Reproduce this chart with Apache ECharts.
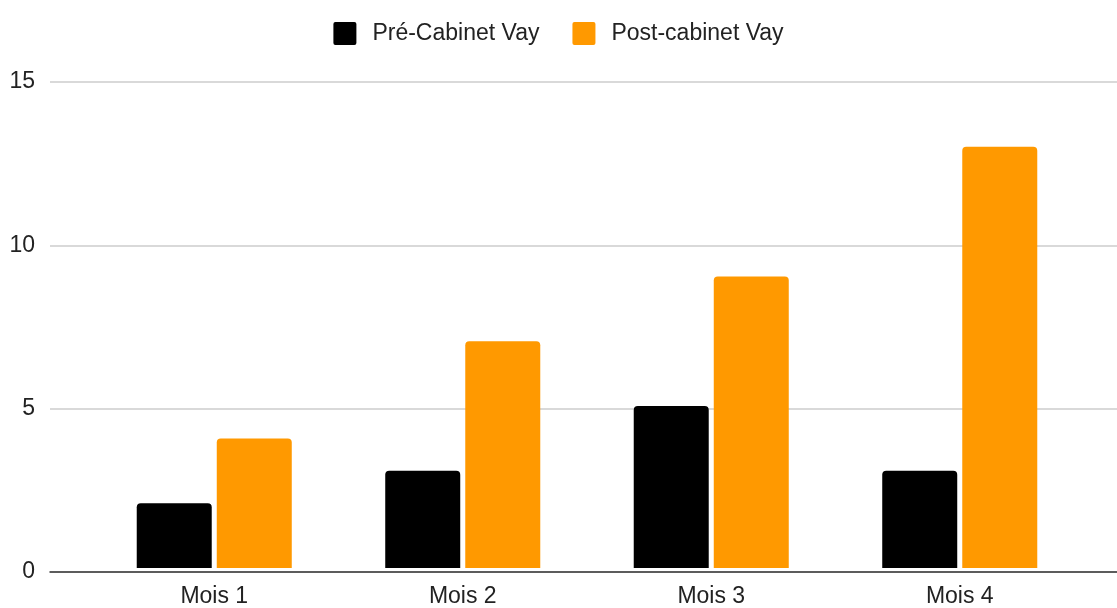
<!DOCTYPE html>
<html>
<head>
<meta charset="utf-8">
<script src="https://cdn.jsdelivr.net/npm/echarts@6/dist/echarts.min.js"></script>
<style>
  html, body { margin: 0; padding: 0; background: #fff; }
  #chart { width: 1117px; height: 608px; }
</style>
</head>
<body>
<div id="chart"></div>
<script>
  const categories = ['Mois 1', 'Mois 2', 'Mois 3', 'Mois 4'];
  const preCabinet = [2, 3, 5, 3];
  const postCabinet = [4, 7, 9, 13];
  const seriesNames = ['Pré-Cabinet Vay', 'Post-cabinet Vay'];
  const yTicks = { min: 0, max: 15, interval: 5 };

  const font = 'Liberation Sans, Arial, sans-serif';
  // square with small rounded corners
  const squareIcon = 'path://M2,0H21Q23,0 23,2V21Q23,23 21,23H2Q0,23 0,21V2Q0,0 2,0Z';

  let option = {
    animation: false,
    textStyle: { fontFamily: font },
    legend: {
      top: 17,
      left: 'center',
      itemWidth: 23,
      itemHeight: 23,
      itemGap: 33,
      textStyle: { fontSize: 23, color: '#222', fontFamily: font, padding: [0, 0, 0, 11] },
      data: [
        { name: seriesNames[0], icon: squareIcon },
        { name: seriesNames[1], icon: squareIcon }
      ]
    },
    grid: [
      // full-width grid for gridlines, y labels and baseline
      { left: 50, right: 0, top: 82, bottom: 36 },
      // inner grid holding the categories
      { left: 90, right: 33, top: 82, bottom: 36 }
    ],
    xAxis: [
      {
        gridIndex: 0,
        type: 'value',
        min: 0,
        max: 1,
        axisLine: { show: true, onZero: false, lineStyle: { color: '#333', width: 1.5 } },
        axisTick: { show: false },
        axisLabel: { show: false },
        splitLine: { show: false }
      },
      {
        gridIndex: 1,
        type: 'category',
        data: categories,
        axisLine: { show: false },
        axisTick: { show: false },
        axisLabel: { color: '#222', fontSize: 23, margin: 17, fontFamily: font }
      }
    ],
    yAxis: [
      {
        gridIndex: 0,
        type: 'value',
        min: yTicks.min,
        max: yTicks.max,
        interval: yTicks.interval,
        axisLine: { show: false },
        axisTick: { show: false },
        axisLabel: { color: '#222', fontSize: 23, margin: 15, fontFamily: font },
        splitLine: { lineStyle: { color: '#cccccc', width: 1.5 } }
      },
      {
        gridIndex: 1,
        type: 'value',
        min: yTicks.min,
        max: yTicks.max,
        interval: yTicks.interval,
        show: false,
        splitLine: { show: false }
      }
    ],
    series: [
      {
        name: seriesNames[0],
        type: 'bar',
        xAxisIndex: 1,
        yAxisIndex: 1,
        barWidth: 75,
        barGap: '6.7%',
        itemStyle: { color: '#000000', borderRadius: [4, 4, 0, 0] },
        data: preCabinet
      },
      {
        name: seriesNames[1],
        type: 'bar',
        xAxisIndex: 1,
        yAxisIndex: 1,
        barWidth: 75,
        barGap: '6.7%',
        itemStyle: { color: '#ff9900', borderRadius: [4, 4, 0, 0] },
        data: postCabinet
      }
    ]
  };

  let myChart = echarts.init(document.getElementById('chart'));
  myChart.setOption(option);
</script>
</body>
</html>
